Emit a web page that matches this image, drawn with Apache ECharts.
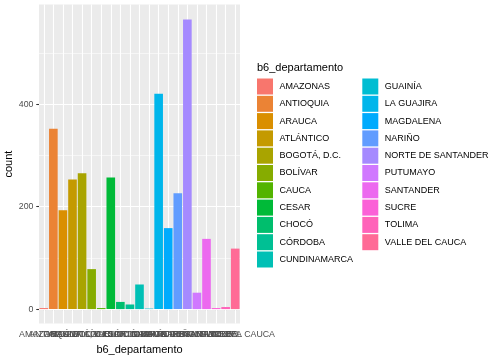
<!DOCTYPE html>
<html>
<head>
<meta charset="utf-8">
<script src="https://cdn.jsdelivr.net/npm/echarts@6/dist/echarts.min.js"></script>
<style>html,body{margin:0;padding:0;background:#fff}#c{width:504px;height:360px}</style>
</head>
<body>
<div id="c"></div>
<script>
const categories = ["AMAZONAS","ANTIOQUIA","ARAUCA","ATLÁNTICO","BOGOTÁ, D.C.","BOLÍVAR","CAUCA","CESAR","CHOCÓ","CÓRDOBA","CUNDINAMARCA","GUAINÍA","LA GUAJIRA","MAGDALENA","NARIÑO","NORTE DE SANTANDER","PUTUMAYO","SANTANDER","SUCRE","TOLIMA","VALLE DEL CAUCA"];
const counts = [2, 352, 193, 253, 265, 78, 2, 257, 14, 9, 48, 1, 420, 158, 226, 565, 32, 137, 2, 4, 118];
const yTickLabels = [0, 200, 400];
const majorGrid = [0, 200, 400];
const minorGrid = [100, 300, 500];
const legendCol1 = categories.slice(0, 11);
const legendCol2 = categories.slice(11);

// ggplot2 default hue palette (hcl, c=100, l=65)
function hcl(h, c, l) {
  const Xn = 95.047, Yn = 100.0, Zn = 108.883;
  const hr = h * Math.PI / 180;
  const u = c * Math.cos(hr), v = c * Math.sin(hr);
  const Y = Yn * (l > 8 ? Math.pow((l + 16) / 116, 3) : l / 903.3);
  const den = Xn + 15 * Yn + 3 * Zn;
  const un = 4 * Xn / den, vn = 9 * Yn / den;
  const up = u / (13 * l) + un, vp = v / (13 * l) + vn;
  const X = Y * 9 * up / (4 * vp);
  const Z = Y * (12 - 3 * up - 20 * vp) / (4 * vp);
  const x = X / 100, y = Y / 100, z = Z / 100;
  const lin = [
    3.240479 * x - 1.537150 * y - 0.498535 * z,
    -0.969256 * x + 1.875992 * y + 0.041556 * z,
    0.055648 * x - 0.204043 * y + 1.057311 * z
  ];
  const g = lin.map(t => {
    let s = t <= 0.0031308 ? 12.92 * t : 1.055 * Math.pow(t, 1 / 2.4) - 0.055;
    s = Math.max(0, Math.min(1, s));
    return Math.round(s * 255).toString(16).padStart(2, '0');
  });
  return '#' + g.join('');
}
const n = categories.length;
const colors = categories.map((_, i) => hcl(15 + 360 * i / n, 100, 65));

const FONT = '"Liberation Sans", Arial, sans-serif';

const barSeries = categories.map((c, i) => ({
  name: c,
  type: 'bar',
  data: counts.map((v, j) => (j === i ? v : null)),
  barGap: '-100%',
  barWidth: '90%',
  z: 3,
  itemStyle: { color: colors[i] },
  emphasis: { disabled: true }
}));

const gridSeries = {
  name: '_grid',
  type: 'line',
  data: [],
  z: 1,
  silent: true,
  markLine: {
    z: 1,
    silent: true,
    symbol: 'none',
    label: { show: false },
    animation: false,
    data: [
      ...categories.map(c => ({ xAxis: c, lineStyle: { color: '#ffffff', width: 1.1, type: 'solid' } })),
      ...majorGrid.map(v => ({ yAxis: v, lineStyle: { color: '#ffffff', width: 1.1, type: 'solid' } })),
      ...minorGrid.map(v => ({ yAxis: v, lineStyle: { color: '#ffffff', width: 0.55, type: 'solid' } }))
    ]
  }
};

const legendText = { fontSize: 9, color: '#000000', fontFamily: FONT, padding: [0, 0, 0, 1.5] };

const chart = echarts.init(document.getElementById('c'), null, { renderer: 'canvas' });
chart.setOption({
  animation: false,
  backgroundColor: '#ffffff',
  textStyle: { fontFamily: FONT },
  title: {
    text: 'b6_departamento',
    left: 257,
    top: 62,
    padding: 0,
    textStyle: { fontSize: 11, fontWeight: 'normal', color: '#000000', fontFamily: FONT }
  },
  grid: {
    left: 39, top: 4.5, width: 201, height: 320.5,
    show: true, backgroundColor: '#EBEBEB', borderWidth: 0
  },
  legend: [
    {
      data: legendCol1, orient: 'vertical', left: 257, top: 78.5, padding: 0,
      itemWidth: 16, itemHeight: 16, itemGap: 1.3, icon: 'rect',
      selectedMode: false,
      textStyle: legendText
    },
    {
      data: legendCol2, orient: 'vertical', left: 362.3, top: 78.5, padding: 0,
      itemWidth: 16, itemHeight: 16, itemGap: 1.3, icon: 'rect',
      selectedMode: false,
      textStyle: legendText
    }
  ],
  xAxis: {
    type: 'category',
    data: categories,
    name: 'b6_departamento',
    nameLocation: 'middle',
    nameGap: 20,
    nameTextStyle: { fontSize: 11, color: '#000000', fontFamily: FONT },
    axisLine: { show: false },
    axisTick: { show: true, alignWithLabel: true, length: 2.75, lineStyle: { color: '#333333', width: 1.07 } },
    axisLabel: { interval: 0, fontSize: 8.8, color: '#4D4D4D', margin: 6.5, hideOverlap: false, fontFamily: FONT },
    splitLine: { show: false }
  },
  yAxis: {
    type: 'value',
    min: -28.3,
    max: 594.3,
    name: 'count',
    nameLocation: 'middle',
    nameGap: 19,
    nameTextStyle: { fontSize: 11, color: '#000000', fontFamily: FONT },
    axisLine: { show: false },
    axisTick: { show: true, length: 2.75, customValues: yTickLabels, lineStyle: { color: '#333333', width: 1.07 } },
    axisLabel: { fontSize: 8.8, color: '#4D4D4D', margin: 5.5, customValues: yTickLabels, fontFamily: FONT },
    splitLine: { show: false }
  },
  series: [gridSeries, ...barSeries]
});
</script>
</body>
</html>
